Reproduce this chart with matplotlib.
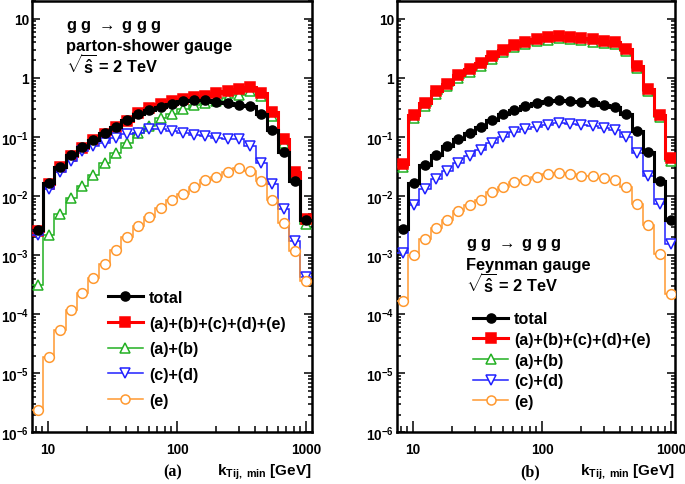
import numpy as np
import matplotlib
matplotlib.use("Agg")
import matplotlib.pyplot as plt
from matplotlib.lines import Line2D
from matplotlib.ticker import LogLocator, FixedLocator, FixedFormatter, NullFormatter

plt.rcParams.update(
    {
        "font.family": ["Liberation Sans", "DejaVu Sans"],
        "font.weight": "bold",
        "mathtext.fontset": "custom",
        "mathtext.rm": "Liberation Sans:bold",
        "mathtext.it": "Liberation Sans:bold",
        "mathtext.bf": "Liberation Sans:bold",
        "mathtext.sf": "Liberation Sans:bold",
    }
)

# 25 log-spaced k_T bins (edges), same in both panels
EDGES = np.logspace(np.log10(7.5), np.log10(1100.0), 26)

# ---- panel (a): parton-shower gauge ----
a_total = [2.7e-3, 0.0166, 0.0316, 0.0497, 0.0687, 0.090, 0.115, 0.149, 0.194, 0.241,
           0.285, 0.325, 0.36, 0.40, 0.42, 0.42, 0.384, 0.369, 0.346, 0.329,
           0.244, 0.133, 0.055, 0.018, 3.9e-3]
a_sum = [2.6e-3, 0.016, 0.031, 0.048, 0.066, 0.088, 0.113, 0.148, 0.19, 0.254,
         0.31, 0.36, 0.40, 0.436, 0.466, 0.50, 0.55, 0.60, 0.64, 0.70,
         0.55, 0.26, 0.092, 0.026, 4.1e-3]
a_ab = [3.1e-4, 2.2e-3, 5.0e-3, 9.2e-3, 0.0146, 0.023, 0.036, 0.054, 0.079, 0.115,
        0.155, 0.209, 0.244, 0.296, 0.346, 0.374, 0.41, 0.45, 0.52, 0.60,
        0.50, 0.23, 0.079, 0.023, 3.4e-3]
a_cd = [2.2e-3, 0.013, 0.026, 0.040, 0.059, 0.0715, 0.079, 0.095, 0.112, 0.115,
        0.136, 0.136, 0.128, 0.115, 0.108, 0.103, 0.095, 0.092, 0.092, 0.071,
        0.037, 0.016, 6.0e-3, 1.73e-3, 4.2e-4]
a_e = [2.4e-6, 1.9e-5, 5.4e-5, 1.17e-4, 2.3e-4, 4.1e-4, 7.0e-4, 1.21e-3, 2.0e-3, 3.1e-3,
       4.4e-3, 6.3e-3, 8.5e-3, 0.011, 0.0142, 0.0184, 0.021, 0.0254, 0.030, 0.027,
       0.0177, 8.6e-3, 3.5e-3, 1.17e-3, 3.7e-4]

# ---- panel (b): Feynman gauge ----
b_total = [2.8e-3, 0.0168, 0.033, 0.050, 0.0715, 0.092, 0.115, 0.149, 0.194, 0.244,
           0.285, 0.329, 0.369, 0.40, 0.425, 0.41, 0.395, 0.384, 0.346, 0.316,
           0.244, 0.128, 0.055, 0.018, 3.9e-3]
b_sum = [0.035, 0.235, 0.37, 0.60, 0.80, 1.11, 1.40, 1.77, 2.35, 2.97,
         3.6, 4.1, 4.6, 4.9, 5.2, 4.9, 4.8, 4.5, 4.2, 4.1,
         3.04, 1.59, 0.66, 0.235, 0.044]
b_ab = [0.031, 0.21, 0.33, 0.54, 0.72, 1.0, 1.27, 1.6, 2.1, 2.7,
        3.3, 3.75, 4.2, 4.45, 4.7, 4.5, 4.35, 4.1, 3.85, 3.75,
        2.8, 1.45, 0.6, 0.215, 0.04]
b_cd = [1.08e-3, 7.0e-3, 0.013, 0.0196, 0.027, 0.037, 0.048, 0.061, 0.079, 0.099,
        0.12, 0.136, 0.149, 0.159, 0.17, 0.166, 0.159, 0.151, 0.14, 0.131,
        0.101, 0.054, 0.0223, 7.4e-3, 1.55e-3]
b_e = [1.65e-4, 1.0e-3, 1.87e-3, 2.9e-3, 4.0e-3, 5.5e-3, 7.0e-3, 8.7e-3, 0.0117, 0.0142,
       0.0172, 0.0188, 0.021, 0.0232, 0.0247, 0.0237, 0.0223, 0.0218, 0.0201, 0.0184,
       0.0142, 7.4e-3, 3.3e-3, 1.03e-3, 2.2e-4]

LABELS = ["total", "(a)+(b)+(c)+(d)+(e)", "(a)+(b)", "(c)+(d)", "(e)"]
COLORS = ["black", "#ff0000", "#22b022", "#2020ff", "#ff9930"]
MARKERS = ["o", "s", "^", "v", "o"]
FILLED = [True, True, False, False, False]
LWS = [2.2, 2.2, 1.1, 1.1, 1.1]
ZORD = [6, 4, 3, 5, 5]

Y_TICKS = [1e-6, 1e-5, 1e-4, 1e-3, 1e-2, 1e-1, 1, 10]
Y_TICKLABELS = [r"$10^{-6}$", r"$10^{-5}$", r"$10^{-4}$", r"$10^{-3}$",
                r"$10^{-2}$", r"$10^{-1}$", "1", "10"]
X_TICKS = [10, 100, 1000]
X_TICKLABELS = ["10", "100", "1000"]


def draw_panel(ax, series, xmax):
    centers = np.sqrt(EDGES[:-1] * EDGES[1:])
    for vals, col, mk, filled, lw, z in zip(series, COLORS, MARKERS, FILLED, LWS, ZORD):
        ax.stairs(vals, EDGES, color=col, lw=lw, baseline=None, zorder=z)
        ax.plot(centers, vals, ls="none", marker=mk, ms=6.5 if filled else 7,
                mfc=col if filled else "white", mec=col, mew=1.1, zorder=z + 0.5)

    ax.set_xscale("log")
    ax.set_yscale("log")
    ax.set_xlim(7.5, xmax)
    ax.set_ylim(1e-6, 20)

    ax.yaxis.set_major_locator(FixedLocator(Y_TICKS))
    ax.yaxis.set_major_formatter(FixedFormatter(Y_TICKLABELS))
    ax.yaxis.set_minor_locator(LogLocator(base=10, subs=np.arange(2, 10), numticks=20))
    ax.yaxis.set_minor_formatter(NullFormatter())
    ax.xaxis.set_major_locator(FixedLocator(X_TICKS))
    ax.xaxis.set_major_formatter(FixedFormatter(X_TICKLABELS))
    ax.xaxis.set_minor_locator(LogLocator(base=10, subs=np.arange(2, 10), numticks=20))
    ax.xaxis.set_minor_formatter(NullFormatter())

    ax.tick_params(axis="both", which="both", direction="in", width=1.1,
                   left=True, right=True, top=False, bottom=True, labelsize=9.8)
    ax.tick_params(axis="y", which="major", length=6, pad=2)
    ax.tick_params(axis="y", which="minor", length=3)
    ax.tick_params(axis="x", which="major", length=8, pad=7)
    ax.tick_params(axis="x", which="minor", length=4)
    for sp in ax.spines.values():
        sp.set_linewidth(1.8)


fig = plt.figure(figsize=(6.85, 4.85), dpi=100)
ax1 = fig.add_axes([0.0467, 0.1062, 0.4088, 0.8897])
ax2 = fig.add_axes([0.5796, 0.1062, 0.4058, 0.8897])

draw_panel(ax1, [a_total, a_sum, a_ab, a_cd, a_e], 1110)
draw_panel(ax2, [b_total, b_sum, b_ab, b_cd, b_e], 1075)

# legend entries: line through the marker
leg_handles = [Line2D([], [], color=c, lw=lw, marker=m, ms=6.5,
                      mfc=c if f else "white", mec=c, mew=1.1)
               for c, lw, m, f in zip(COLORS, LWS, MARKERS, FILLED)]

ax1.legend(leg_handles, LABELS, loc="upper left", bbox_to_anchor=(0.271, 0.33),
           frameon=False, fontsize=11.6, borderpad=0, borderaxespad=0,
           handlelength=2.17, handletextpad=0.37, labelspacing=0.66)
ax2.legend(leg_handles, LABELS, loc="upper left", bbox_to_anchor=(0.274, 0.281),
           frameon=False, fontsize=11.6, borderpad=0, borderaxespad=0,
           handlelength=2.17, handletextpad=0.37, labelspacing=0.35)

proc = r"g g $\rightarrow$ g g g"
txt = dict(fontsize=11.8, fontweight="bold", va="baseline", ha="left")
ax1.text(0.12, 0.935, proc, transform=ax1.transAxes, **txt)
ax1.text(0.12, 0.887, "parton-shower gauge", transform=ax1.transAxes, **txt)
ax1.text(0.12, 0.833, r"$\sqrt{\hat{s}}$ = 2 TeV", transform=ax1.transAxes, **txt)
ax2.text(0.248, 0.429, proc, transform=ax2.transAxes, **txt)
ax2.text(0.248, 0.380, "Feynman gauge", transform=ax2.transAxes, **txt)
ax2.text(0.248, 0.325, r"$\sqrt{\hat{s}}$ = 2 TeV", transform=ax2.transAxes, **txt)

xl = r"$\mathregular{k_{Tij,\ min}}$ [GeV]"
fig.text(0.2526, 0.0268, "(a)", family="Liberation Serif", fontweight="bold",
         fontsize=11.5, ha="center", va="center")
fig.text(0.4555, 0.0268, xl, fontsize=11, ha="right", va="center")
fig.text(0.7737, 0.0268, "(b)", family="Liberation Serif", fontweight="bold",
         fontsize=11.5, ha="center", va="center")
fig.text(0.9854, 0.0268, xl, fontsize=11, ha="right", va="center")

fig.savefig("out.png", dpi=100)
